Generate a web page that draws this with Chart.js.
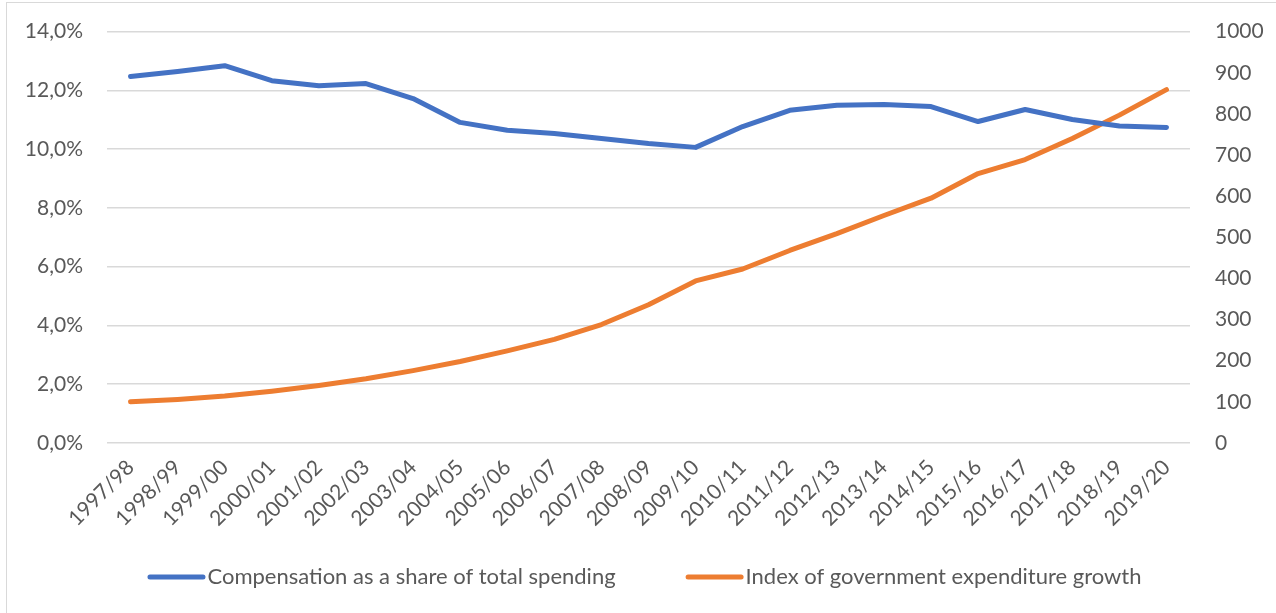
<!DOCTYPE html>
<html>
<head>
<meta charset="utf-8">
<script src="https://cdn.jsdelivr.net/npm/chart.js@4.4.1/dist/chart.umd.min.js"></script>
<style>
  html, body { margin: 0; padding: 0; background: #fff; overflow: hidden; }
  #frame {
    position: absolute; left: 6px; top: 2px; width: 1270px; height: 611px;
    border-top: 1px solid #d9d9d9; border-left: 1px solid #d9d9d9;
  }
  #wrap { position: absolute; left: 0; top: -6px; width: 1276px; height: 619px; }
</style>
</head>
<body>
<div id="frame"></div>
<div id="wrap"><canvas id="chart" width="1276" height="619"></canvas></div>
<script>
const years = [
  "1997/98", "1998/99", "1999/00", "2000/01", "2001/02", "2002/03", "2003/04",
  "2004/05", "2005/06", "2006/07", "2007/08", "2008/09", "2009/10", "2010/11",
  "2011/12", "2012/13", "2013/14", "2014/15", "2015/16", "2016/17", "2017/18",
  "2018/19", "2019/20"
];

// compensation share of total spending, percent
const compensationShare = [
  12.47, 12.64, 12.84, 12.33, 12.16, 12.23, 11.72, 10.91, 10.64, 10.53, 10.36,
  10.19, 10.06, 10.77, 11.32, 11.49, 11.52, 11.45, 10.94, 11.35, 11.01, 10.79, 10.74
];

// expenditure index, 1997/98 = 100
const expenditureIndex = [
  100, 106, 114, 126, 140, 156, 176, 198, 224, 252, 288, 336, 394, 423, 468,
  509, 553, 595, 655, 689, 740, 797, 859
];

const seriesNames = [
  "Compensation as a share of total spending",
  "Index of government expenditure growth"
];

const BLUE = "#4472c4";
const ORANGE = "#ed7d31";
const GRID = "#d9d9d9";
const TEXT = "#595959";
const FONT = "Lato, 'Open Sans', sans-serif";

// legend drawn by hand: short line sample hugging its label, one row
const lineLegend = {
  id: "lineLegend",
  afterDraw(chart) {
    const ctx = chart.ctx;
    const area = chart.chartArea;
    const sample = 58, gap = 2, between = 70, y = 583;
    ctx.save();
    ctx.font = "22px " + FONT;
    const items = chart.data.datasets.map((ds) => ({
      text: ds.label,
      color: ds.borderColor,
      w: ctx.measureText(ds.label).width
    }));
    const total = items.reduce((s, it) => s + sample + gap + it.w, 0) + between * (items.length - 1);
    let x = (area.left + area.right) / 2 - total / 2 - 4;
    ctx.textBaseline = "middle";
    ctx.lineCap = "round";
    items.forEach((it) => {
      ctx.strokeStyle = it.color;
      ctx.lineWidth = 5;
      ctx.beginPath();
      ctx.moveTo(x + 2.5, y);
      ctx.lineTo(x + sample - 2.5, y);
      ctx.stroke();
      ctx.fillStyle = TEXT;
      ctx.fillText(it.text, x + sample + gap, y);
      x += sample + gap + it.w + between;
    });
    ctx.restore();
  }
};

new Chart(document.getElementById("chart"), {
  type: "line",
  data: {
    labels: years,
    datasets: [
      {
        label: seriesNames[0],
        data: compensationShare,
        yAxisID: "y",
        borderColor: BLUE,
        backgroundColor: BLUE,
        borderWidth: 5,
        borderCapStyle: "round",
        borderJoinStyle: "round",
        pointRadius: 0,
        tension: 0
      },
      {
        label: seriesNames[1],
        data: expenditureIndex,
        yAxisID: "y1",
        borderColor: ORANGE,
        backgroundColor: ORANGE,
        borderWidth: 5,
        borderCapStyle: "round",
        borderJoinStyle: "round",
        pointRadius: 0,
        tension: 0
      }
    ]
  },
  options: {
    responsive: false,
    animation: false,
    layout: { padding: { left: 8, right: 8, top: 12, bottom: 0 } },
    plugins: {
      tooltip: { enabled: false },
      legend: { display: false }
    },
    scales: {
      x: {
        offset: true,
        grid: { display: false },
        border: { display: false },
        ticks: {
          color: TEXT,
          font: { family: FONT, size: 21 },
          minRotation: 45,
          maxRotation: 45,
          autoSkip: false,
          padding: 4
        },
        afterFit: (scale) => { scale.height = 170; }
      },
      y: {
        position: "left",
        min: 0,
        max: 14,
        border: { display: false },
        grid: { color: GRID, lineWidth: 1.5, drawTicks: false },
        ticks: {
          stepSize: 2,
          color: TEXT,
          font: { family: FONT, size: 21 },
          padding: 24,
          callback: (v) => v.toFixed(1).replace(".", ",") + "%"
        },
        afterFit: (scale) => { scale.width = 99; }
      },
      y1: {
        position: "right",
        min: 0,
        max: 1000,
        border: { display: false },
        grid: { display: false, drawTicks: false },
        ticks: {
          stepSize: 100,
          color: TEXT,
          font: { family: FONT, size: 21 },
          padding: 25,
          callback: (v) => String(v)
        },
        afterFit: (scale) => { scale.width = 78; }
      }
    }
  },
  plugins: [lineLegend]
});
</script>
</body>
</html>
